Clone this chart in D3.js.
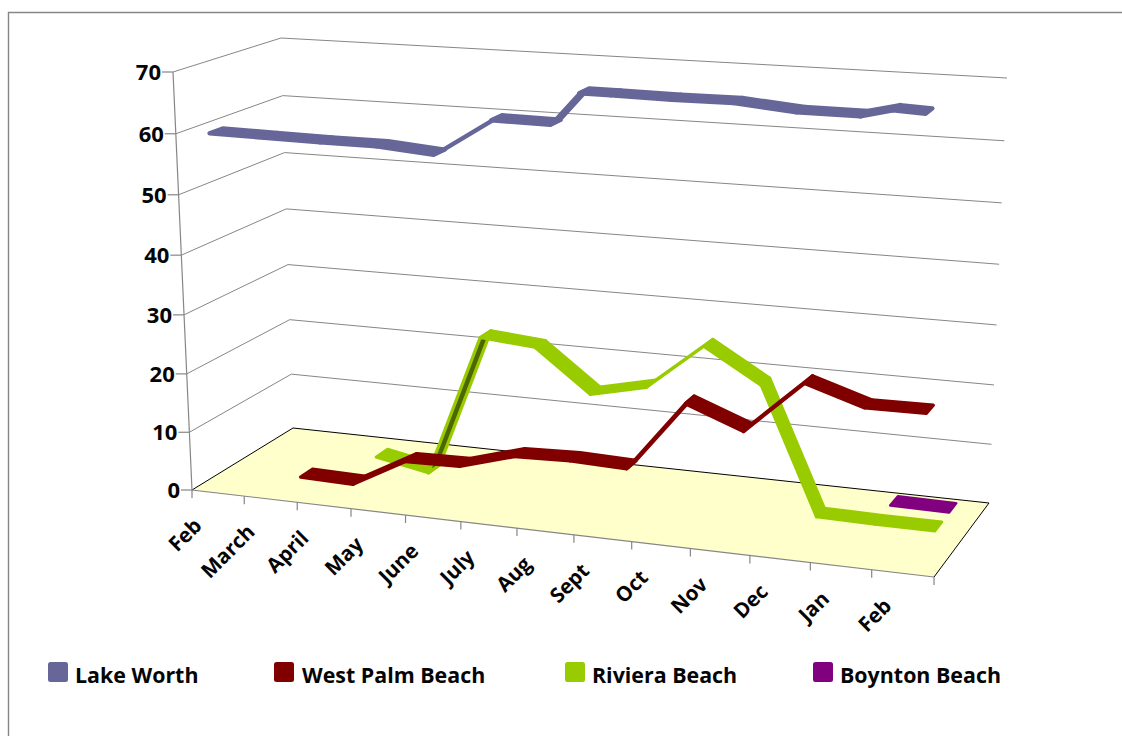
<!DOCTYPE html>
<html>
<head>
<meta charset="utf-8">
<script src="https://cdnjs.cloudflare.com/ajax/libs/d3/7.8.5/d3.min.js"></script>
<style>
html,body{margin:0;padding:0;background:#fff;}
svg{display:block;}
text{font-family:"Open Sans",sans-serif;font-weight:700;fill:#050505;}
</style>
</head>
<body>
<script>
const months = ["Feb","March","April","May","June","July","Aug","Sept","Oct","Nov","Dec","Jan","Feb"];
const valueTicks = [0,10,20,30,40,50,60,70];
const seriesNames = ["Lake Worth","West Palm Beach","Riviera Beach","Boynton Beach"];
const seriesColors = ["#666699","#800000","#99CC00","#800080"];
const seriesUnderside = ["#666699","#800000","#4d6600","#800080"];
const ribbonEdge = [4.4,3.4,2.8,2.6];

// month positions (index into months) and values
const lakeWorthAt = [0,1,2,3,4,5,6,6.48,7,8,9,10,11,11.5,12];
const lakeWorthValues = [60,59.9,59.8,59.8,59.1,65.2,65.1,70.3,70.3,70.2,70.3,69.5,69.5,70.7,70.5];
const westPalmAt = [1,2,3,4,5,6,7,8,9,10,11,12];
const westPalmValues = [0.4,0.2,5.2,5.4,8.1,8.4,8.1,19.9,16.3,25.1,22.1,22.2];
const rivieraAt = [2,3,4,5,6,7,8,9,10,11,12];
const rivieraValues = [2.2,0.4,24.9,24.1,17,19.1,26.9,21.3,0.3,0.15,0.15];
const boyntonAt = [11,12];
const boyntonValues = [0.3,0.2];

const W = 1122, H = 736;
const svg = d3.select("body").append("svg").attr("width",W).attr("height",H);

// The eight corners of the chart box, as seen on screen
const box = {
  fl:[[192,490],[173,72]],
  fr:[[934,577],[955,122]],
  bl:[[293,428],[281,38]],
  br:[[989,503],[1007,78]]
};
const xScale = d3.scaleLinear().domain([0,months.length]).range([0,1]);
const yScale = d3.scaleLinear().domain([0,70]).range([0,1]);
const zScale = d3.scaleBand().domain(seriesNames).range([0,1]).paddingInner(0.5).paddingOuter(0.25);
const persp = k => p => p/(p + k*(1-p));
const warpX = persp(1.1), warpY = persp(1.04);
const mix = (a,b,t) => [a[0]+(b[0]-a[0])*t, a[1]+(b[1]-a[1])*t];

function project(xPos, value, z){
  const t = warpX(xScale(xPos)), s = warpY(yScale(value));
  const front = mix(mix(box.fl[0],box.fl[1],s), mix(box.fr[0],box.fr[1],s), t);
  const back  = mix(mix(box.bl[0],box.bl[1],s), mix(box.br[0],box.br[1],s), t);
  return mix(front,back,z);
}
const pathOf = pts => "M" + pts.map(p=>p[0].toFixed(2)+","+p[1].toFixed(2)).join("L") + "Z";
const lineOf = pts => "M" + pts.map(p=>p[0].toFixed(2)+","+p[1].toFixed(2)).join("L");

// Outer frame
svg.append("path").attr("d","M8.5,736V12.5H1122").attr("fill","none").attr("stroke","#868686").attr("stroke-width",1.4);

// Gridlines on the left and back walls
const grid = svg.append("g").attr("fill","none").attr("stroke","#868686").attr("stroke-width",1);
valueTicks.filter(v=>v>0).forEach(v=>{
  const wall = [project(0,v,0),project(0,v,1),project(months.length,v,1)];
  grid.append("path").attr("d",lineOf(wall));
});

// Floor
const floorPts = [project(0,0,0),project(0,0,1),project(months.length,0,1),project(months.length,0,0)];
svg.append("path").attr("d",pathOf(floorPts)).attr("fill","#FFFFCC");
svg.append("path").attr("d",lineOf(floorPts)).attr("fill","none").attr("stroke","#000").attr("stroke-width",1);

// Axis lines and ticks
const axis = svg.append("g").attr("fill","none").attr("stroke","#868686").attr("stroke-width",1.2);
axis.append("path").attr("d",lineOf([project(0,70,0),project(0,0,0),project(months.length,0,0)]));
valueTicks.forEach(v=>{
  const p = project(0,v,0);
  axis.append("path").attr("d",lineOf([[p[0]-11,p[1]],p]));
});
d3.range(months.length+1).forEach(i=>{
  const p = project(i,0,0);
  axis.append("path").attr("d",lineOf([p,[p[0],p[1]+8]]));
});

// Value labels
svg.append("g").selectAll("text").data(valueTicks).join("text")
  .attr("x",v=>project(0,v,0)[0]-12)
  .attr("y",v=>project(0,v,0)[1]+8)
  .attr("text-anchor","end").attr("font-size",22).text(v=>v);

// Month labels
svg.append("g").selectAll("text").data(months).join("text")
  .attr("text-anchor","end").attr("font-size",20.6)
  .attr("transform",(m,i)=>{
    const p = project(i+0.5,0,0);
    return `translate(${p[0]-15+5*i/12},${p[1]+34}) rotate(-45)`;
  }).text(m=>m);

// Ribbons, back to front
const series = [
  {name:seriesNames[0],at:lakeWorthAt,values:lakeWorthValues,i:0},
  {name:seriesNames[1],at:westPalmAt,values:westPalmValues,i:1},
  {name:seriesNames[2],at:rivieraAt,values:rivieraValues,i:2},
  {name:seriesNames[3],at:boyntonAt,values:boyntonValues,i:3}
];
series.slice().reverse().forEach(s=>{
  const z0 = zScale(s.name), z1 = z0 + zScale.bandwidth();
  const fr = s.at.map((a,k)=>project(a+0.5,s.values[k],z0));
  const bk = s.at.map((a,k)=>project(a+0.5,s.values[k],z1));
  const g = svg.append("g");
  d3.range(fr.length-1).forEach(k=>{
    const a=fr[k],b=fr[k+1],c=bk[k];
    const cross=(b[0]-a[0])*(c[1]-a[1])-(b[1]-a[1])*(c[0]-a[0]);
    g.append("path").attr("d",pathOf([fr[k],fr[k+1],bk[k+1],bk[k]]))
      .attr("fill",cross>0?seriesUnderside[s.i]:seriesColors[s.i]).attr("stroke",seriesColors[s.i])
      .attr("stroke-width",cross>0?3.2:ribbonEdge[s.i]).attr("stroke-linejoin","round");
  });
});

// Legend
const legendSwatchX = [48,274,565,813];
const legendTextX = [75,302,592,840];
const legend = svg.append("g");
seriesNames.forEach((n,i)=>{
  legend.append("rect").attr("x",legendSwatchX[i]).attr("y",662).attr("width",20).attr("height",20).attr("rx",2.5)
    .attr("fill",seriesColors[i]);
  legend.append("text").attr("x",legendTextX[i]).attr("y",683).attr("font-size",21.4).text(n);
});
</script>
</body>
</html>
